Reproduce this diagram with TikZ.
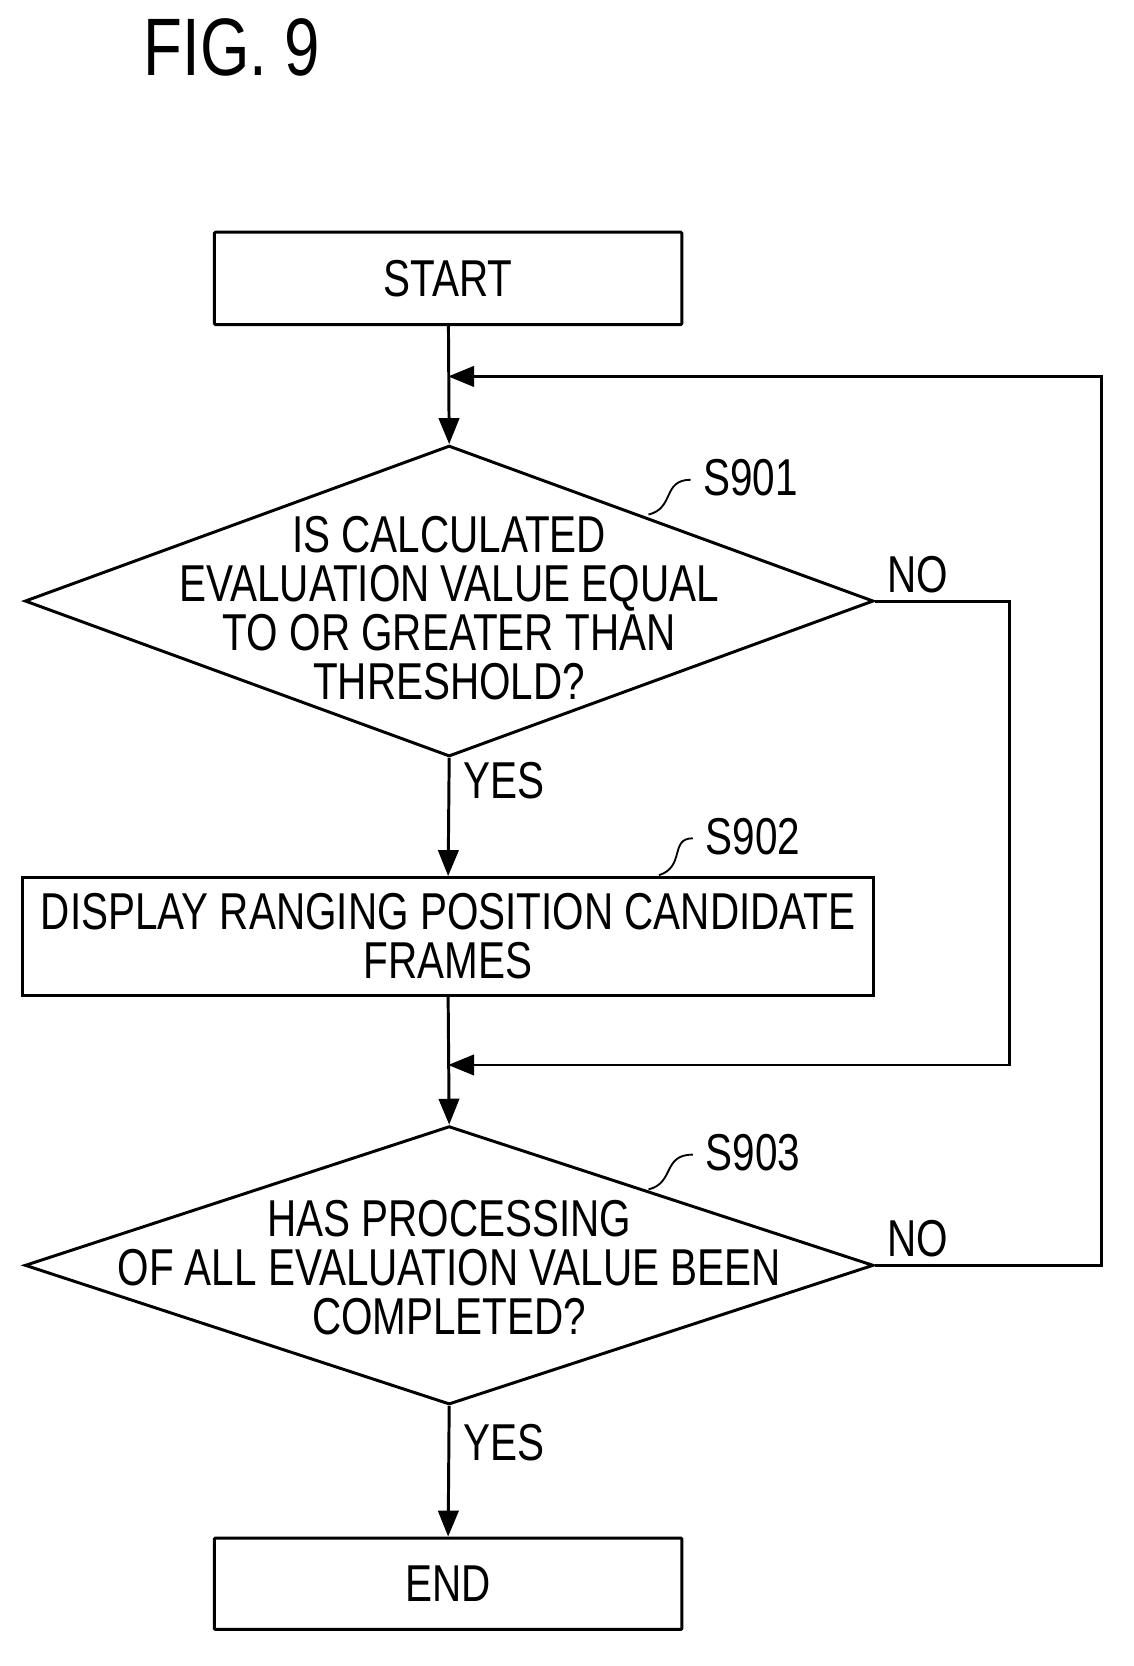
\documentclass[tikz,border=0pt]{standalone}
\usepackage{fontspec}
\setmainfont{Liberation Sans}[FakeStretch=0.78]
\usetikzlibrary{shapes.geometric,arrows.meta}
\begin{document}
\begin{tikzpicture}[x=0.02cm,y=-0.02cm,
  every node/.style={font=\fontsize{28}{26.5}\selectfont, inner sep=0pt},
  ln/.style={line width=1.6pt},
  arr/.style={ln,-{Triangle[length=14pt,width=11pt]}},
  lab/.style={font=\fontsize{28}{26.5}\selectfont}]
\useasboundingbox (0,0) rectangle (1075,1580);
\node at (220,45) {\fontsize{44}{44}\selectfont FIG. 9};
\node[draw,ln,rounded corners=44\dimexpr0.567pt\relax,minimum width=445*0.567pt,minimum height=88*0.567pt] (start) at (425,264) {START};
\node[draw,ln,diamond,aspect=2.73,minimum width=808*0.567pt,minimum height=296*0.567pt,align=center] (d1) at (426,570) {};
\node[align=center] at (426,577) {IS CALCULATED\\EVALUATION VALUE EQUAL\\TO OR GREATER THAN\\THRESHOLD?};
\node[draw,ln,minimum width=810*0.567pt,minimum height=112*0.567pt,align=center] (p2) at (425,888) {DISPLAY RANGING POSITION CANDIDATE\\FRAMES};
\node[draw,ln,diamond,aspect=3.05,minimum width=808*0.567pt,minimum height=265*0.567pt] (d2) at (426,1200) {};
\node[align=center] at (426,1202) {HAS PROCESSING\\OF ALL EVALUATION VALUE BEEN\\COMPLETED?};
\node[draw,ln,rounded corners=43\dimexpr0.567pt\relax,minimum width=445*0.567pt,minimum height=87*0.567pt] (end) at (425,1502) {END};
\coordinate (j1) at (425,357);
\coordinate (j2) at (425,1010);
\coordinate (c1) at (957,570);
\coordinate (c2) at (957,1010);
\coordinate (c3) at (1045,1200);
\coordinate (c4) at (1045,357);
\draw[arr] (start) -- (d1.north);
\draw[arr] (d1.south) -- (p2.north);
\draw[arr] (p2.south) -- (d2.north);
\draw[arr] (d2.south) -- (end.north);
\draw[arr] (d1.east) -- (c1) -- (c2) -- (j2);
\draw[arr] (d2.east) -- (c3) -- (c4) -- (j1);
\node at (870,545) {NO};
\node at (870,1175) {NO};
\node at (478,740) {YES};
\node at (478,1368) {YES};
\node (s1) at (712,453) {S901};
\node (s2) at (714,793) {S902};
\node (s3) at (714,1093) {S903};
\draw[line width=1pt] (615,488) .. controls (640,482) and (628,455) .. (655,455);
\draw[line width=1pt] (625,830) .. controls (650,822) and (635,795) .. (657,795);
\draw[line width=1pt] (615,1128) .. controls (640,1122) and (628,1095) .. (657,1095);
\end{tikzpicture}
\end{document}
